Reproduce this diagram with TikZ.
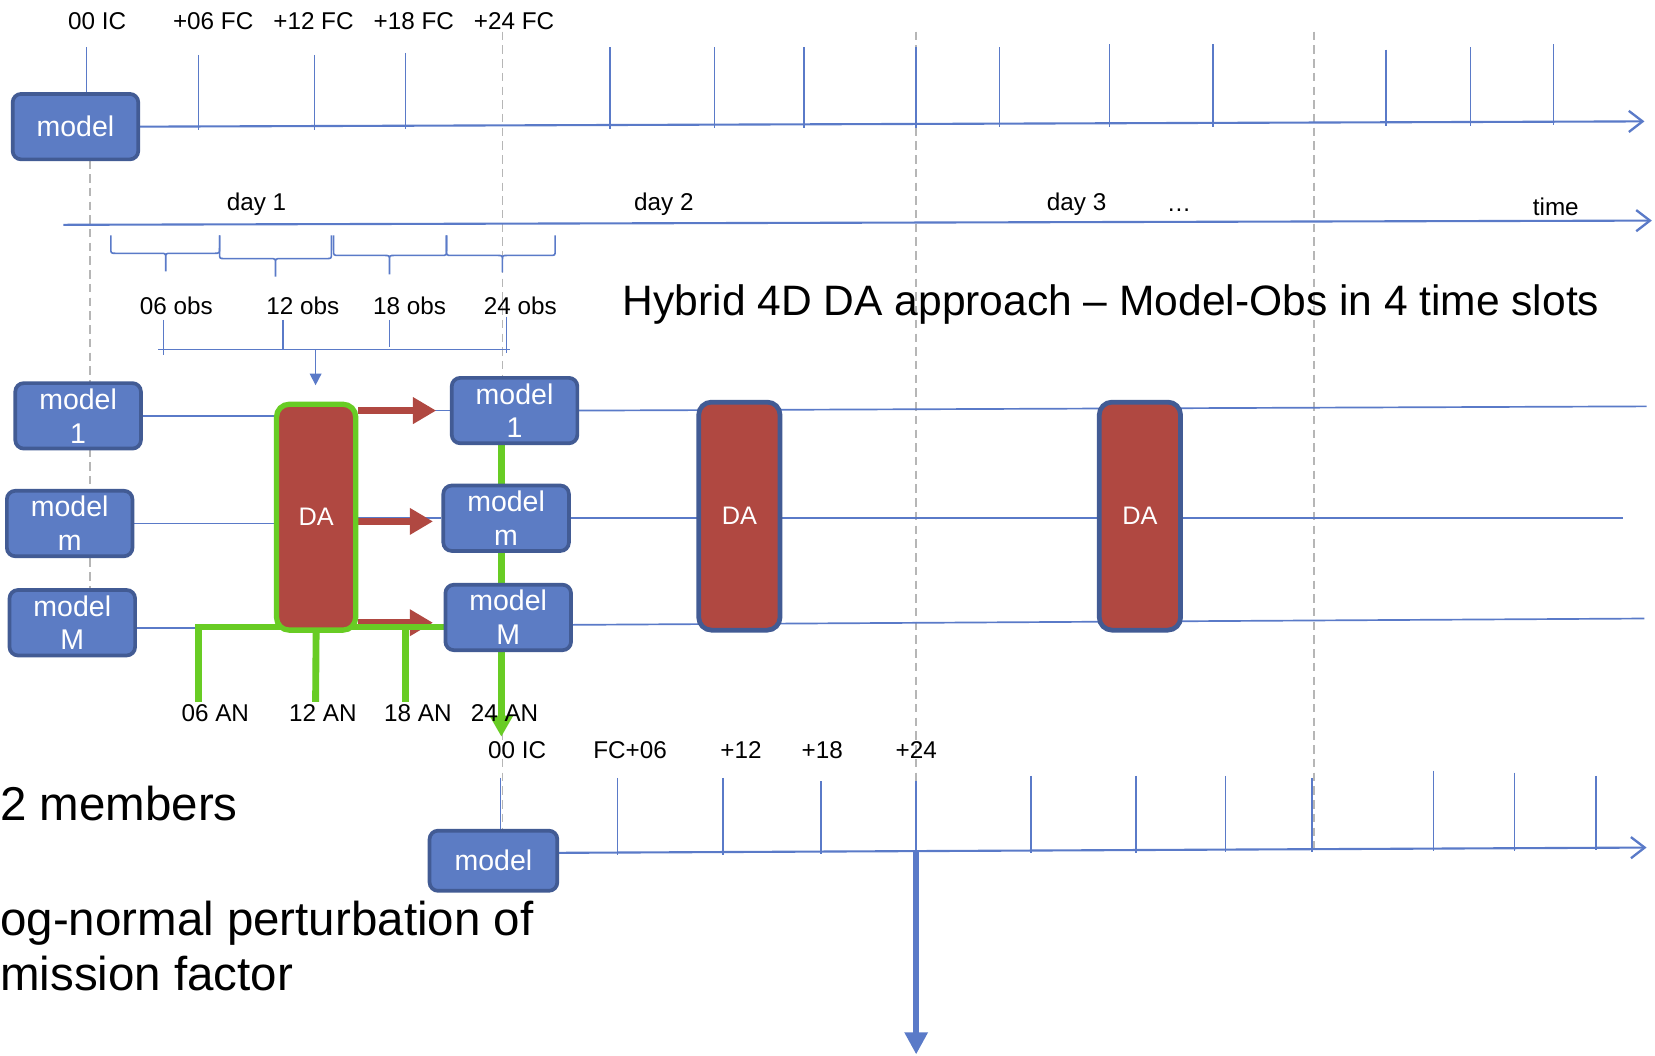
\documentclass[tikz,border=0pt]{standalone}
\usepackage{fontspec}
\setmainfont{Liberation Sans}
\usetikzlibrary{arrows.meta}

\definecolor{boxfill}{RGB}{92,124,196}
\definecolor{boxedge}{RGB}{66,91,148}
\definecolor{axisblue}{RGB}{90,122,200}
\definecolor{dared}{RGB}{176,72,65}
\definecolor{angreen}{RGB}{104,204,36}
\definecolor{guidegray}{RGB}{182,182,182}

\pgfdeclarelayer{back}
\pgfdeclarelayer{over}
\pgfsetlayers{back,over,main}

\tikzset{
  modelbox/.style={draw=boxedge, fill=boxfill, line width=3.5pt, rounded corners=8pt,
    minimum width=119pt, minimum height=62pt, inner sep=0pt, align=center,
    text=white, font=\fontsize{27}{32}\selectfont},
  dabox/.style={draw=boxedge, fill=dared, line width=4.5pt, rounded corners=12pt,
    minimum width=77pt, minimum height=216pt, inner sep=0pt, text=white,
    font=\fontsize{24}{28}\selectfont},
  lbl/.style={inner sep=0pt, anchor=base, font=\fontsize{23}{27}\selectfont},
  bigtext/.style={inner sep=0pt, anchor=base west},
  axisline/.style={draw=axisblue, line width=2pt},
  tickline/.style={draw=axisblue, line width=1.5pt},
  memberline/.style={draw=axisblue, line width=1.6pt},
  guide/.style={draw=guidegray, line width=1.6pt, dash pattern=on 8pt off 5pt},
  openhead/.style={-{Straight Barb[length=13pt,width=20pt,line width=2.2pt]}},
  feedarrow/.style={draw=dared, line width=7pt, -{Triangle[length=22pt,width=24pt]}},
  anline/.style={draw=angreen, line width=6.5pt, line join=miter},
  bracket/.style={draw=axisblue, line width=1.5pt},
}

\begin{document}
\begin{tikzpicture}[x=1pt,y=-1pt]
\useasboundingbox (0,0) rectangle (1568,1000);

% ---------------- forecast from a single model run ----------------
\node[modelbox] (fcmodel) at (71.5,120) {model};
\node[lbl] (t00) at (92,28) {00 IC};
\node[lbl] (t06) at (202,28) {+06 FC};
\node[lbl] (t12) at (297,28) {+12 FC};
\node[lbl] (t18) at (392,28) {+18 FC};
\node[lbl] (t24) at (487,28) {+24 FC};
\coordinate (fcend) at (1558,115);

% ---------------- time axis with days ----------------
\coordinate (tstart) at (60,213);
\coordinate (tend) at (1565,209);
\node[lbl] (day1) at (243,199) {day 1};
\node[lbl] (day2) at (629,199) {day 2};
\node[lbl] (day3) at (1020,199) {day 3};
\node[lbl] (dots) at (1117,200) {…};
\node[lbl] (time) at (1474,204) {time};

\node[lbl] (o06) at (167,298) {06 obs};
\node[lbl] (o12) at (287,298) {12 obs};
\node[lbl] (o18) at (388,298) {18 obs};
\node[lbl] (o24) at (493,298) {24 obs};

\coordinate (obsL) at (150,331);
\coordinate (obsR) at (483,331);
\coordinate (obsmid) at (299,331);
\coordinate (obsin) at (299,365);

\node[bigtext, font=\fontsize{40.3}{46}\selectfont] (title) at (590,299)
  {Hybrid 4D DA approach -- Model-Obs in 4 time slots};

% ---------------- ensemble members and analysis ----------------
\node[modelbox] (m1L) at (74,394) {model\\1};
\node[modelbox] (mmL) at (66,496) {model\\m};
\node[modelbox] (mML) at (68.5,590) {model\\M};
\node[modelbox] (m1R) at (487.5,389) {model\\1};
\node[modelbox] (mmR) at (479.5,491) {model\\m};
\node[modelbox] (mMR) at (481.5,585) {model\\M};
\node[dabox, draw=angreen, line width=5pt, minimum width=75pt, minimum height=214pt] (da1) at (299.5,490) {DA};
\node[dabox] (da2) at (700.5,489) {DA};
\node[dabox] (da3) at (1080,489) {DA};
\coordinate (end1) at (1560,385);
\coordinate (end2) at (1538,491);
\coordinate (end3) at (1558,586);

\coordinate (an06) at (188,665);
\coordinate (an12) at (299,665);
\coordinate (an18) at (384,665);
\coordinate (an24) at (475,698);
\node[lbl] (l06) at (204,684) {06 AN};
\node[lbl] (l12) at (306,684) {12 AN};
\node[lbl] (l18) at (396,684) {18 AN};
\node[lbl] (l24) at (478,684) {24 AN};

% ---------------- next forecast ----------------
\node[modelbox, minimum width=121pt, minimum height=57pt] (mbot) at (467.5,815.5) {model};
\node[lbl] (b00) at (490,719) {00 IC};
\node[lbl] (b06) at (597,719) {FC+06};
\node[lbl] (b12) at (702,719) {+12};
\node[lbl] (b18) at (779,719) {+18};
\node[lbl] (b24) at (868,719) {+24};
\coordinate (bend) at (1560,803);
\coordinate (fc24) at (868,806);
\coordinate (fcout) at (868,999);

\node[bigtext, font=\fontsize{45}{52}\selectfont] (members) at (0,777) {2 members};
\node[bigtext, font=\fontsize{45}{52}\selectfont] (pert1) at (0,886) {og-normal perturbation of};
\node[bigtext, font=\fontsize{45}{52}\selectfont] (pert2) at (0,938) {mission factor};

% ---------------- lines behind the boxes ----------------
\begin{pgfonlayer}{back}
  \fill[white] (0,0) rectangle (1568,1000);

  % day boundaries
  \draw[guide] (85,152) -- (85,578);
  \draw[guide] (476,30) -- (476,792);
  \draw[guide] (868,30) -- (868,808);
  \draw[guide] (1245,30) -- (1245,803);

  % forecast ticks and axis
  \foreach \x/\t in {82/45,188/52,298/52,384/50,578/45,677/45,762/45,868/45,947/45,
                     1051/42,1149/42,1313/47,1393/45,1472/42}
    \draw[tickline] (\x,\t) -- (\x,{123.5-(\x-131)*5/1427});
  \draw[axisline, openhead] (fcmodel.east) -- (fcend);

  % time axis
  \draw[axisline, openhead] (tstart) -- (tend);

  % observation windows
  \foreach \a/\m/\b/\bar/\tip in {105/157/208/240/257, 208/261/314/245/262,
                                  316/369/423/242/260, 423/476/526/242/258}
    \draw[bracket] (\a,223) -- (\a,\bar-5) .. controls (\a,\bar) .. (\a+5,\bar)
      -- (\m-5,\bar) .. controls (\m,\bar) .. (\m,\bar+5) -- (\m,\tip)
      -- (\m,\bar+5) .. controls (\m,\bar) .. (\m+5,\bar)
      -- (\b-5,\bar) .. controls (\b,\bar) .. (\b,\bar-5) -- (\b,223);

  % gathering the observations
  \draw[bracket] (obsL) -- (obsR);
  \draw[bracket] (155,303) -- (155,336);
  \draw[bracket] (268,303) -- (268,331);
  \draw[bracket] (369,303) -- (369,329);
  \draw[bracket] (480,300) -- (480,334);
  \draw[bracket, -{Triangle[length=11pt,width=11pt]}] (obsmid) -- (obsin);

  % member trajectories
  \draw[memberline] (m1L.east) -- (m1L.east -| da1.west);
  \draw[memberline] (mmL.east) -- (mmL.east -| da1.west);
  \draw[memberline] ([shift={(0,5)}]mML.east) -- ([shift={(0,5)}]mML.east -| da1.west);
  \draw[memberline] (da1.east |- m1R.west) -- (m1R.west);
  \draw[memberline] (da1.east |- mmR.west) -- (mmR.west);
  \draw[memberline] (m1R.east) -- (end1);
  \draw[memberline] (mmR.east) -- (end2);
  \draw[memberline] ([shift={(0,7)}]mMR.east) -- (end3);

  % next forecast ticks and axis
  \foreach \x/\t in {474/737,585/737,685/737,778/740,868/740,977/735,1076/735,
                     1161/735,1243/737,1358/730,1435/732,1512/735}
    \draw[tickline] (\x,\t) -- (\x,{810.5-(\x-528)*5/1032});
  \draw[axisline, openhead] (mbot.east |- 0,808) -- (bend);
  \draw[draw=axisblue, line width=5.5pt, -{Triangle[length=21pt,width=21pt]}] (fc24) -- (fcout);
\end{pgfonlayer}

% ---------------- analysis feedback ----------------
\begin{pgfonlayer}{over}
  \draw[feedarrow] (da1.east |- m1R.west) -- ([xshift=-13pt]m1R.west);
  \draw[feedarrow] (da1.east |- 0,494) -- ([xshift=-8pt]mmR.west |- 0,494);
  \draw[feedarrow] (da1.east |- 0,590) -- ([xshift=-10pt]mMR.west |- 0,590);

  \draw[anline] (an06) -- (188,594) -- (mMR.west |- 0,594);
  \draw[anline] (da1.south) -- (an12);
  \draw[anline] (384,594) -- (an18);
  \draw[anline, -{Triangle[length=20pt,width=21pt]}] (m1R.south -| an24) -- (an24);
\end{pgfonlayer}
\end{tikzpicture}
\end{document}
